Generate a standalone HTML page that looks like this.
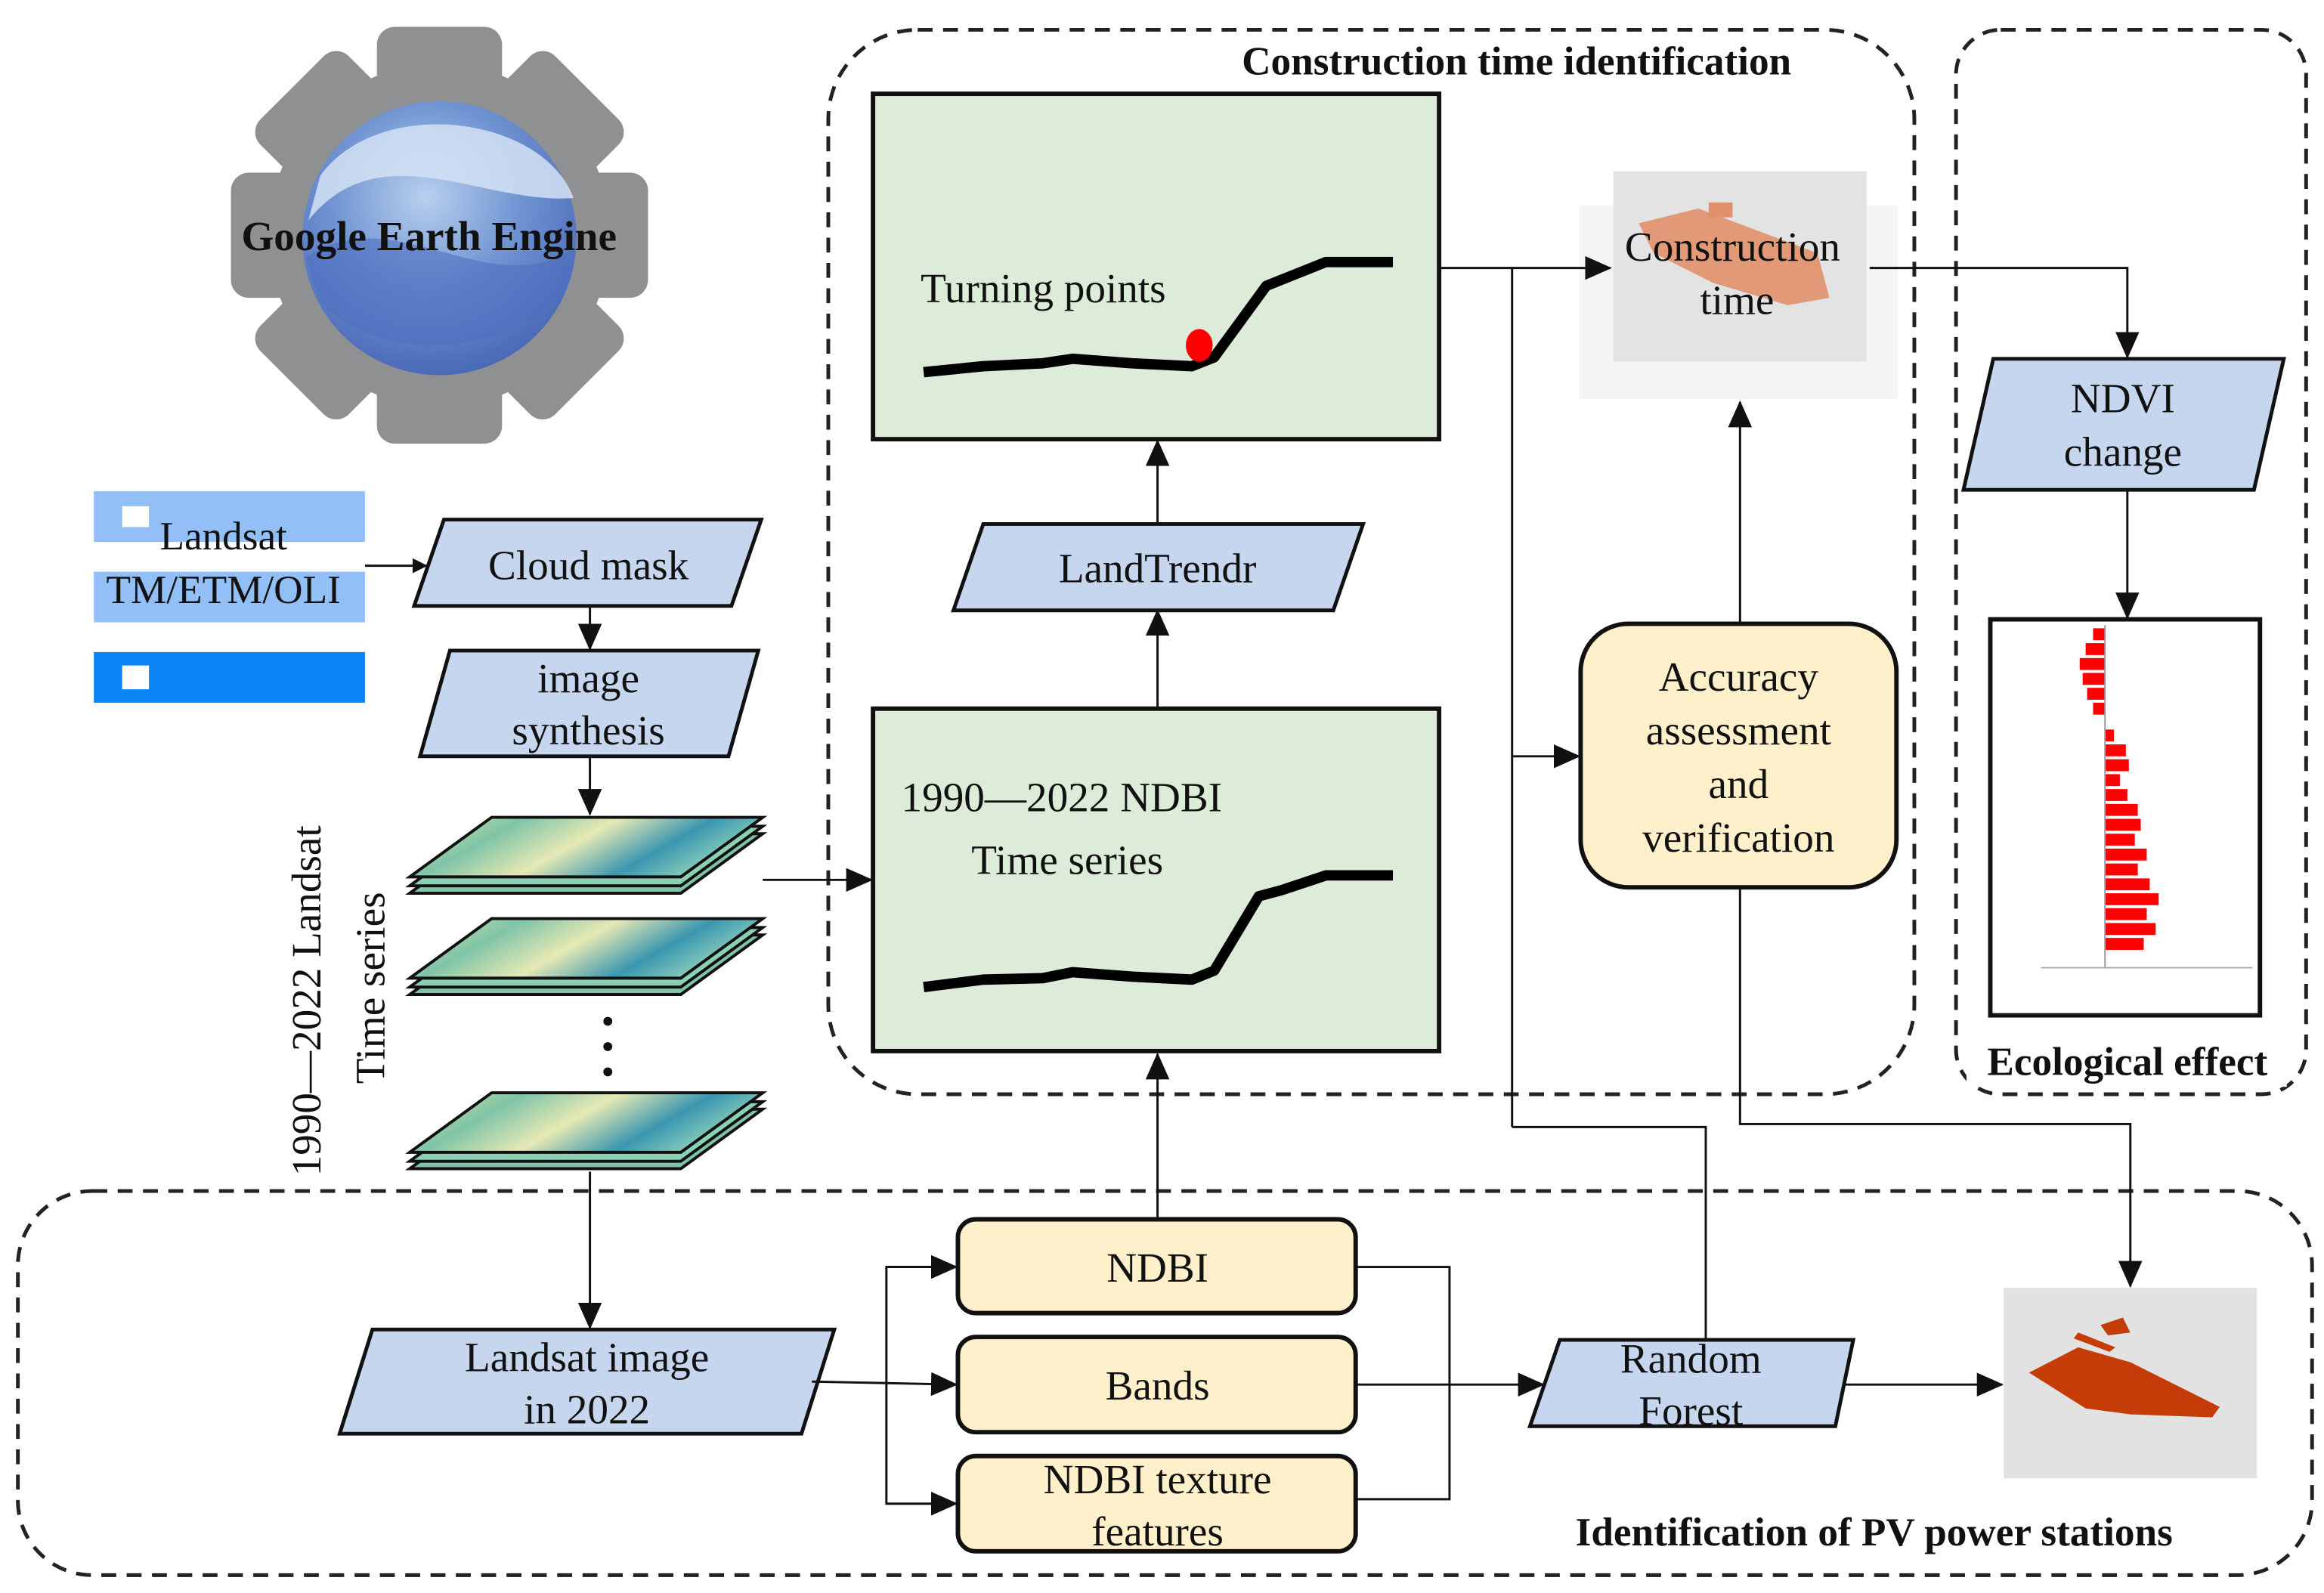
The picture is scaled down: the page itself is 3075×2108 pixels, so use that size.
<!DOCTYPE html>
<html><head><meta charset="utf-8"><style>
html,body{margin:0;padding:0;background:#fff;}
svg{display:block;}
text{font-family:"Liberation Serif",serif;fill:#111;}
.b{font-weight:bold;}
</style></head><body>
<svg width="3075" height="2108" viewBox="0 0 1560 1070" preserveAspectRatio="none" xmlns="http://www.w3.org/2000/svg">
<defs>
<marker id="a" markerWidth="10" markerHeight="10" refX="9" refY="5" orient="auto" markerUnits="userSpaceOnUse"><path d="M0,0 L10,5 L0,10 Z" fill="#111"/></marker>
<marker id="A" markerWidth="18" markerHeight="16" refX="17" refY="8" orient="auto" markerUnits="userSpaceOnUse"><path d="M0,0 L18,8 L0,16 Z" fill="#111"/></marker>
<linearGradient id="lay" x1="0" y1="0" x2="1" y2="0.3">
<stop offset="0" stop-color="#e9e79a"/><stop offset="0.3" stop-color="#7fc4a8"/><stop offset="0.55" stop-color="#e6e9b4"/><stop offset="0.8" stop-color="#3a96b0"/><stop offset="1" stop-color="#8ccfbb"/></linearGradient>
<radialGradient id="globe" cx="0.45" cy="0.35" r="0.7"><stop offset="0" stop-color="#b8d0ee"/><stop offset="0.5" stop-color="#6f93d2"/><stop offset="1" stop-color="#4563b3"/></radialGradient>
</defs>

<rect x="556" y="20" width="729" height="715" rx="60" fill="none" stroke="#222" stroke-width="2.5" stroke-dasharray="10,7"/>
<rect x="1313" y="20" width="235" height="715" rx="30" fill="none" stroke="#222" stroke-width="2.5" stroke-dasharray="10,7"/>
<rect x="12" y="800" width="1540" height="258" rx="50" fill="none" stroke="#222" stroke-width="2.5" stroke-dasharray="10,7"/>
<rect x="810" y="26" width="418" height="30" fill="#fff"/>
<text x="1018" y="50" font-size="27" text-anchor="middle" class="b">Construction time identification</text>
<rect x="1320" y="698" width="215" height="32" fill="#fff"/>
<text x="1428" y="722" font-size="27" text-anchor="middle" class="b">Ecological effect</text>
<text x="1258" y="1038" font-size="27" text-anchor="middle" class="b">Identification of  PV power stations</text>

<!-- GEE gear -->
<g transform="translate(295,158)">
<g fill="#8f9092">
<circle r="115"/>
<rect x="-42" y="-140" width="84" height="280" rx="12"/>
<rect x="-42" y="-140" width="84" height="280" rx="12" transform="rotate(45)"/>
<rect x="-42" y="-140" width="84" height="280" rx="12" transform="rotate(90)"/>
<rect x="-42" y="-140" width="84" height="280" rx="12" transform="rotate(135)"/>
</g>
<ellipse cx="0" cy="2" rx="92" ry="92" fill="url(#globe)"/>
<path d="M-88,-10 C-40,-70 30,-20 90,-25 C70,-80 -40,-95 -80,-40 Z" fill="#d4e2f4" opacity="0.85"/>
<path d="M-90,15 C-30,-25 30,45 90,10 L86,35 C40,85 -40,85 -80,45 Z" fill="#4e6fbf" opacity="0.6"/>
</g>
<text x="288" y="168" font-size="28" text-anchor="middle" class="b">Google Earth Engine</text>

<rect x="63" y="330" width="182" height="34" fill="#92bff5"/>
<rect x="63" y="384" width="182" height="34" fill="#92bff5"/>
<rect x="63" y="438" width="182" height="34" fill="#0a84f5"/>
<rect x="82" y="340" width="18" height="14" fill="#fff"/>
<rect x="82" y="447" width="18" height="16" fill="#fff"/>
<text x="150" y="369" font-size="27" text-anchor="middle">Landsat</text>
<text x="150" y="405" font-size="27" text-anchor="middle">TM/ETM/OLI</text>

<g fill="#c5d6ee" stroke="#111" stroke-width="2.5">
<polygon points="298,349 511,349 491,407 278,407"/>
<polygon points="302,437 509,437 489,508 282,508"/>
<polygon points="660,352 915,352 895,410 640,410"/>
<polygon points="1338,241 1533,241 1513,329 1318,329"/>
<polygon points="250,893 560,893 538,963 228,963"/>
<polygon points="1047,900 1244,900 1232,958 1027,958"/>
</g>
<text x="395" y="389" font-size="28" text-anchor="middle">Cloud mask</text>
<text x="395" y="465" font-size="28" text-anchor="middle">image</text>
<text x="395" y="500" font-size="28" text-anchor="middle">synthesis</text>
<text x="777" y="391" font-size="28" text-anchor="middle">LandTrendr</text>
<text x="1425" y="277" font-size="28" text-anchor="middle">NDVI</text>
<text x="1425" y="313" font-size="28" text-anchor="middle">change</text>
<text x="394" y="921" font-size="28" text-anchor="middle">Landsat image</text>
<text x="394" y="956" font-size="28" text-anchor="middle">in 2022</text>
<text x="1135" y="922" font-size="28" text-anchor="middle">Random</text>
<text x="1135" y="957" font-size="28" text-anchor="middle">Forest</text>

<rect x="586" y="63" width="380" height="232" fill="#dcecd8" stroke="#111" stroke-width="3"/>
<rect x="586" y="476" width="380" height="230" fill="#dcecd8" stroke="#111" stroke-width="3"/>
<text x="618" y="203" font-size="28">Turning points</text>
<path d="M620,250 L660,246 L700,244 L720,241 L760,244 L800,246 L815,240 L850,192 L870,184 L890,176 L935,176" fill="none" stroke="#000" stroke-width="7" stroke-linejoin="round"/>
<ellipse cx="805" cy="232" rx="9" ry="11" fill="#f00"/>
<text x="605" y="545" font-size="28">1990<tspan>—</tspan>2022 NDBI</text>
<text x="652" y="587" font-size="28">Time series</text>
<path d="M620,663 L660,658 L700,657 L720,653 L760,656 L800,658 L815,652 L845,602 L860,598 L890,588 L935,588" fill="none" stroke="#000" stroke-width="7" stroke-linejoin="round"/>

<rect x="1060" y="138" width="214" height="130" fill="#f5f5f5"/>
<rect x="1083" y="115" width="170" height="128" fill="#e3e3e3"/>
<path d="M1100,150 L1140,140 L1220,170 L1228,200 L1200,205 L1150,190 L1110,170 Z" fill="#e0906a" opacity="0.9"/>
<rect x="1147" y="136" width="16" height="10" fill="#e0906a"/>
<text x="1163" y="175" font-size="28" text-anchor="middle">Construction</text>
<text x="1166" y="211" font-size="28" text-anchor="middle">time</text>

<rect x="1061" y="419" width="212" height="177" rx="32" fill="#fdf0cb" stroke="#111" stroke-width="3"/>
<text x="1167" y="464" font-size="28" text-anchor="middle">Accuracy</text>
<text x="1167" y="500" font-size="28" text-anchor="middle">assessment</text>
<text x="1167" y="536" font-size="28" text-anchor="middle">and</text>
<text x="1167" y="572" font-size="28" text-anchor="middle">verification</text>

<rect x="1336" y="416" width="181" height="266" fill="#fff" stroke="#111" stroke-width="3"/>
<g fill="#f00">
<rect x="1405" y="422" width="8" height="8"/><rect x="1400" y="432" width="13" height="8"/><rect x="1396" y="442" width="17" height="8"/><rect x="1398" y="452" width="15" height="8"/><rect x="1401" y="462" width="12" height="8"/><rect x="1405" y="472" width="8" height="8"/>
<rect x="1413" y="490" width="6" height="8"/><rect x="1413" y="500" width="14" height="8"/><rect x="1413" y="510" width="16" height="8"/><rect x="1413" y="520" width="10" height="8"/><rect x="1413" y="530" width="15" height="8"/><rect x="1413" y="540" width="22" height="8"/><rect x="1413" y="550" width="24" height="8"/><rect x="1413" y="560" width="20" height="8"/><rect x="1413" y="570" width="28" height="8"/><rect x="1413" y="580" width="22" height="8"/><rect x="1413" y="590" width="30" height="8"/><rect x="1413" y="600" width="36" height="8"/><rect x="1413" y="610" width="28" height="8"/><rect x="1413" y="620" width="34" height="8"/><rect x="1413" y="630" width="26" height="8"/>
</g>
<line x1="1370" y1="650" x2="1512" y2="650" stroke="#aaa" stroke-width="1"/>
<line x1="1413" y1="420" x2="1413" y2="650" stroke="#999" stroke-width="1"/>

<rect x="1345" y="865" width="170" height="128" fill="#e2e2e2"/>
<path d="M1362,922 L1395,905 L1430,915 L1490,945 L1485,952 L1430,950 L1400,946 Z" fill="#c43d08"/>
<path d="M1410,890 L1425,885 L1430,895 L1415,897 Z" fill="#c43d08"/>
<path d="M1395,895 L1420,905 L1416,908 L1392,899 Z" fill="#c43d08"/>

<g stroke="#111" stroke-width="2">
<g id="st">
<polygon points="330,560 512,560 457,600 275,600" fill="#7fc4a8"/>
<polygon points="330,555 512,555 457,595 275,595" fill="#8cd0b4"/>
<polygon points="330,549 512,549 457,589 275,589" fill="url(#lay)"/>
</g>
<use href="#st" y="68"/>
<use href="#st" y="185"/>
</g>
<circle cx="408" cy="686" r="3" fill="#111"/><circle cx="408" cy="703" r="3" fill="#111"/><circle cx="408" cy="720" r="3" fill="#111"/>
<text transform="translate(215,790) rotate(-90)" font-size="28">1990—2022 Landsat</text>
<text transform="translate(258,728) rotate(-90)" font-size="28">Time series</text>

<g fill="#fdf0cb" stroke="#111" stroke-width="3">
<rect x="643" y="819" width="267" height="63" rx="12"/>
<rect x="643" y="898" width="267" height="64" rx="12"/>
<rect x="643" y="978" width="267" height="64" rx="12"/>
</g>
<text x="777" y="861" font-size="28" text-anchor="middle">NDBI</text>
<text x="777" y="940" font-size="28" text-anchor="middle">Bands</text>
<text x="777" y="1003" font-size="28" text-anchor="middle">NDBI texture</text>
<text x="777" y="1038" font-size="28" text-anchor="middle">features</text>

<g fill="none" stroke="#111" stroke-width="1.5">
<line x1="245" y1="380" x2="286" y2="380" marker-end="url(#a)"/>
<line x1="396" y1="407" x2="396" y2="436" marker-end="url(#A)"/>
<line x1="396" y1="508" x2="396" y2="547" marker-end="url(#A)"/>
<line x1="512" y1="591" x2="585" y2="591" marker-end="url(#A)"/>
<line x1="777" y1="475" x2="777" y2="410" marker-end="url(#A)"/>
<line x1="777" y1="352" x2="777" y2="296" marker-end="url(#A)"/>
<line x1="967" y1="180" x2="1081" y2="180" marker-end="url(#A)"/>
<line x1="1015" y1="180" x2="1015" y2="757"/>
<line x1="1015" y1="508" x2="1060" y2="508" marker-end="url(#A)"/>
<polyline points="1015,757 1145,757 1145,900"/>
<line x1="1168" y1="418" x2="1168" y2="270" marker-end="url(#A)"/>
<polyline points="1255,180 1428,180 1428,240" marker-end="url(#A)"/>
<line x1="1428" y1="329" x2="1428" y2="415" marker-end="url(#A)"/>
<polyline points="1168,597 1168,755 1430,755 1430,864" marker-end="url(#A)"/>
<line x1="777" y1="818" x2="777" y2="708" marker-end="url(#A)"/>
<line x1="396" y1="787" x2="396" y2="892" marker-end="url(#A)"/>
<line x1="545" y1="928" x2="642" y2="930" marker-end="url(#A)"/>
<polyline points="642,851 595,851 595,1010 642,1010"/>
<line x1="595" y1="851" x2="642" y2="851" marker-end="url(#A)"/>
<line x1="595" y1="1010" x2="642" y2="1010" marker-end="url(#A)"/>
<polyline points="910,851 973,851 973,1007 910,1007"/>
<line x1="910" y1="930" x2="1036" y2="930" marker-end="url(#A)"/>
<line x1="1237" y1="930" x2="1344" y2="930" marker-end="url(#A)"/>
</g>
</svg>
</body></html>
